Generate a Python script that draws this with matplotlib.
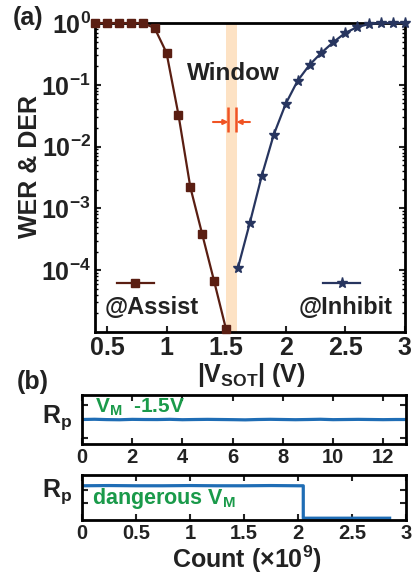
import numpy as np
import matplotlib
matplotlib.use("Agg")
import matplotlib.pyplot as plt
from matplotlib.lines import Line2D

# fonts: bold Arial-like everywhere, math text too
plt.rcParams["font.family"] = ["Liberation Sans", "DejaVu Sans"]
plt.rcParams["font.weight"] = "bold"
plt.rcParams["axes.labelweight"] = "bold"
plt.rcParams["mathtext.fontset"] = "custom"
plt.rcParams["mathtext.rm"] = "Liberation Sans:bold"
plt.rcParams["mathtext.it"] = "Liberation Sans:bold"
plt.rcParams["mathtext.bf"] = "Liberation Sans:bold"
plt.rcParams["xtick.direction"] = "in"
plt.rcParams["ytick.direction"] = "in"

# (a) error rates vs |V_SOT|
v_assist = [0.4, 0.5, 0.6, 0.7, 0.8, 0.9, 1.0, 1.1, 1.2, 1.3, 1.4, 1.5]
wer_assist = [1.0, 1.0, 1.0, 1.0, 1.0, 0.83, 0.33, 0.033, 2.2e-3, 3.8e-4, 6.6e-5, 1.1e-5]

v_inhibit = [1.6, 1.7, 1.8, 1.9, 2.0, 2.1, 2.2, 2.3, 2.4, 2.5, 2.6, 2.7, 2.8, 2.9, 3.0]
der_inhibit = [1.1e-4, 5.9e-4, 3.4e-3, 0.0156, 0.049, 0.116, 0.21, 0.33, 0.49, 0.69,
               0.86, 0.96, 1.0, 1.0, 1.0]

window_lo, window_hi = 1.5, 1.59

# (b) resistance traces
count1 = [0, 0.5, 1, 1.5, 2, 2.5, 3, 3.5, 4, 4.5, 5, 5.5, 6, 6.5, 7, 7.5, 8, 8.5,
          9, 9.5, 10, 10.5, 11, 11.5, 12, 12.5, 12.9]
r1 = [0.500, 0.505, 0.498, 0.495, 0.503, 0.500, 0.499, 0.504, 0.496, 0.500, 0.503, 0.500,
      0.497, 0.493, 0.500, 0.504, 0.500, 0.496, 0.500, 0.505, 0.497, 0.500, 0.503, 0.500,
      0.497, 0.500, 0.500]

count2 = [0, 0.25, 0.5, 0.75, 1.0, 1.25, 1.5, 1.75, 2.0, 2.05, 2.05, 2.3, 2.55, 2.85]
r2 = [0.76, 0.765, 0.76, 0.76, 0.765, 0.76, 0.76, 0.765, 0.76, 0.76, 0.04, 0.04, 0.04, 0.04]

c_assist = "#5a1e12"
c_inhibit = "#27355f"
c_blue = "#1f6db5"
c_green = "#1a9a4a"
c_text = "#222222"

fig = plt.figure(figsize=(4.12, 5.81), dpi=100)

ax = fig.add_axes([0.2306, 0.4286, 0.752, 0.5318])
ax.axvspan(window_lo, window_hi, color="#fde2c4", lw=0, zorder=0)
ax.plot(v_assist, wer_assist, "-s", color=c_assist, lw=1.6, ms=5.5, clip_on=False, zorder=3)
ax.plot(v_inhibit, der_inhibit, "-*", color=c_inhibit, lw=1.6, ms=8, clip_on=False, zorder=3)
ax.set_yscale("log")
ax.set_xlim(0.4, 3.0)
ax.set_ylim(1e-5, 1)
ax.set_xticks([0.5, 1, 1.5, 2, 2.5, 3])
ax.set_xticklabels(["0.5", "1", "1.5", "2", "2.5", "3"])
ax.set_yticks([1e-4, 1e-3, 1e-2, 1e-1, 1])
ax.set_yticklabels(["$10^{-4}$", "$10^{-3}$", "$10^{-2}$", "$10^{-1}$", "$10^{0}$"])
ax.tick_params(labelsize=18, width=1.5, length=4, pad=3, right=True, top=False, colors=c_text)
ax.tick_params(which="minor", width=1.0, length=2, right=True)
for s in ax.spines.values():
    s.set_linewidth(2)
ax.set_ylabel("WER & DER", fontsize=18, color=c_text)
ax.yaxis.set_label_coords(-0.172, 0.537)
ax.set_xlabel("|V$_{\\mathrm{SOT}}$| (V)", fontsize=18, color=c_text)
ax.xaxis.set_label_coords(0.503, -0.095)

# window arrows
ay = 0.025
ax.annotate("", xy=(1.52, ay), xytext=(1.39, ay),
            arrowprops=dict(arrowstyle="-|>", color="#f05323", lw=1.5, mutation_scale=7,
                            shrinkA=0, shrinkB=0))
ax.annotate("", xy=(1.587, ay), xytext=(1.70, ay),
            arrowprops=dict(arrowstyle="-|>", color="#f05323", lw=1.5, mutation_scale=7,
                            shrinkA=0, shrinkB=0))
ax.vlines([1.52, 1.587], 0.0174, 0.043, color="#f05323", lw=1.8)
ax.text(1.56, 0.15, "Window", ha="center", va="center", fontsize=17.5, color=c_text)

# legends: handle above, text below
h1 = Line2D([], [], color=c_assist, marker="s", lw=1.6, ms=5.5)
h2 = Line2D([], [], color=c_inhibit, marker="*", lw=1.6, ms=8)
leg1 = ax.legend([h1], [""], loc="center left", bbox_to_anchor=(0.071, 0.152),
                 frameon=False, borderpad=0, borderaxespad=0, handlelength=1.55,
                 handletextpad=0, fontsize=17)
ax.add_artist(leg1)
ax.legend([h2], [""], loc="center left", bbox_to_anchor=(0.737, 0.152),
          frameon=False, borderpad=0, borderaxespad=0, handlelength=1.55,
          handletextpad=0, fontsize=17)
ax.text(0.032, 0.078, "@Assist", transform=ax.transAxes, ha="left", va="center",
        fontsize=17, color=c_text)
ax.text(0.961, 0.078, "@Inhibit", transform=ax.transAxes, ha="right", va="center",
        fontsize=17, color=c_text)

fig.text(0.03, 0.969, "(a)", fontsize=18, color=c_text, ha="left", va="center")
fig.text(0.04, 0.343, "(b)", fontsize=18, color=c_text, ha="left", va="center")

# (b) top trace
b1 = fig.add_axes([0.199, 0.2358, 0.786, 0.0843])
b1.plot(count1, r1, color=c_blue, lw=2.3)
b1.set_xlim(0, 12.9)
b1.set_ylim(0, 1)
b1.set_xticks([0, 2, 4, 6, 8, 10, 12])
b1.set_yticks([0.13, 0.8])
b1.set_yticklabels([])
b1.tick_params(labelsize=14.5, width=1.5, length=4, pad=3, top=True, right=True, colors=c_text)
for s in b1.spines.values():
    s.set_linewidth(2)
b1.text(-0.031, 0.43, "R$_\\mathrm{p}$", transform=b1.transAxes, ha="right", va="baseline",
        fontsize=18, color=c_text)
b1.text(0.04, 0.64, "V$_\\mathrm{M}$  -1.5V", transform=b1.transAxes, ha="left", va="baseline",
        fontsize=15, color=c_green)

# (b) bottom trace
b2 = fig.add_axes([0.199, 0.1050, 0.786, 0.0775])
b2.plot(count2, r2, color=c_blue, lw=2.3)
b2.set_xlim(0, 3)
b2.set_ylim(0, 1)
b2.set_xticks([0, 0.5, 1, 1.5, 2, 2.5, 3])
b2.set_xticklabels(["0", "0.5", "1", "1.5", "2", "2.5", "3"])
b2.set_yticks([0.38, 0.67])
b2.set_yticklabels([])
b2.tick_params(labelsize=14.5, width=1.5, length=4, pad=3, top=True, right=True, colors=c_text)
for s in b2.spines.values():
    s.set_linewidth(2)
b2.text(-0.031, 0.51, "R$_\\mathrm{p}$", transform=b2.transAxes, ha="right", va="baseline",
        fontsize=18, color=c_text)
b2.text(0.031, 0.36, "dangerous V$_\\mathrm{M}$", transform=b2.transAxes, ha="left",
        va="baseline", fontsize=15.5, color=c_green)
b2.set_xlabel("Count (\u00d710$^{9}$)", fontsize=18, color=c_text)
b2.xaxis.set_label_coords(0.51, -0.52)

fig.savefig("out.png", dpi=100)
